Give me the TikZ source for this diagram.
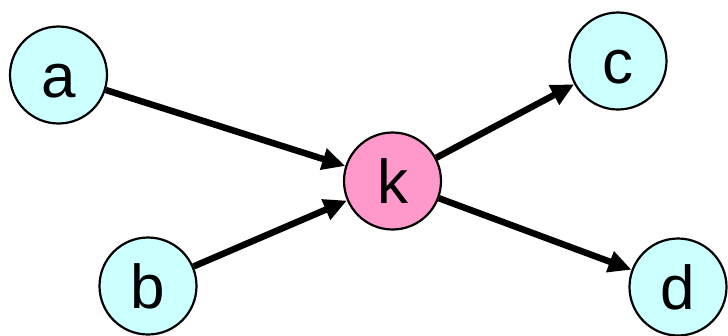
\documentclass[tikz,border=0pt]{standalone}
\usepackage{fontspec}
\setmainfont{Liberation Sans}
\usetikzlibrary{arrows.meta}

\definecolor{leafcol}{RGB}{204,255,255}
\definecolor{hubcol}{RGB}{255,153,204}

\begin{document}
\begin{tikzpicture}[x=1pt,y=-1pt,
  vert/.style={circle,draw=black,line width=2.2pt,minimum size=97pt,inner sep=0pt,
    text height=44pt,text depth=0pt,font=\fontsize{62}{62}\selectfont},
  edge/.style={-{Triangle[length=23pt,width=21pt]},line width=6.5pt}]
  \useasboundingbox (0,0) rectangle (728,335);
  % sources and sinks
  \node[vert,fill=leafcol] (a) at (58.5,75) {a};
  \node[vert,fill=leafcol] (b) at (148,286) {b};
  \node[vert,fill=leafcol] (c) at (618,61) {c};
  \node[vert,fill=leafcol] (d) at (678,287) {d};
  % hub
  \node[vert,fill=hubcol] (k) at (392.5,181) {k};
  \draw[edge] (a) -- (k);
  \draw[edge] (b) -- (k);
  \draw[edge] (k) -- (c);
  \draw[edge] (k) -- (d);
\end{tikzpicture}
\end{document}
